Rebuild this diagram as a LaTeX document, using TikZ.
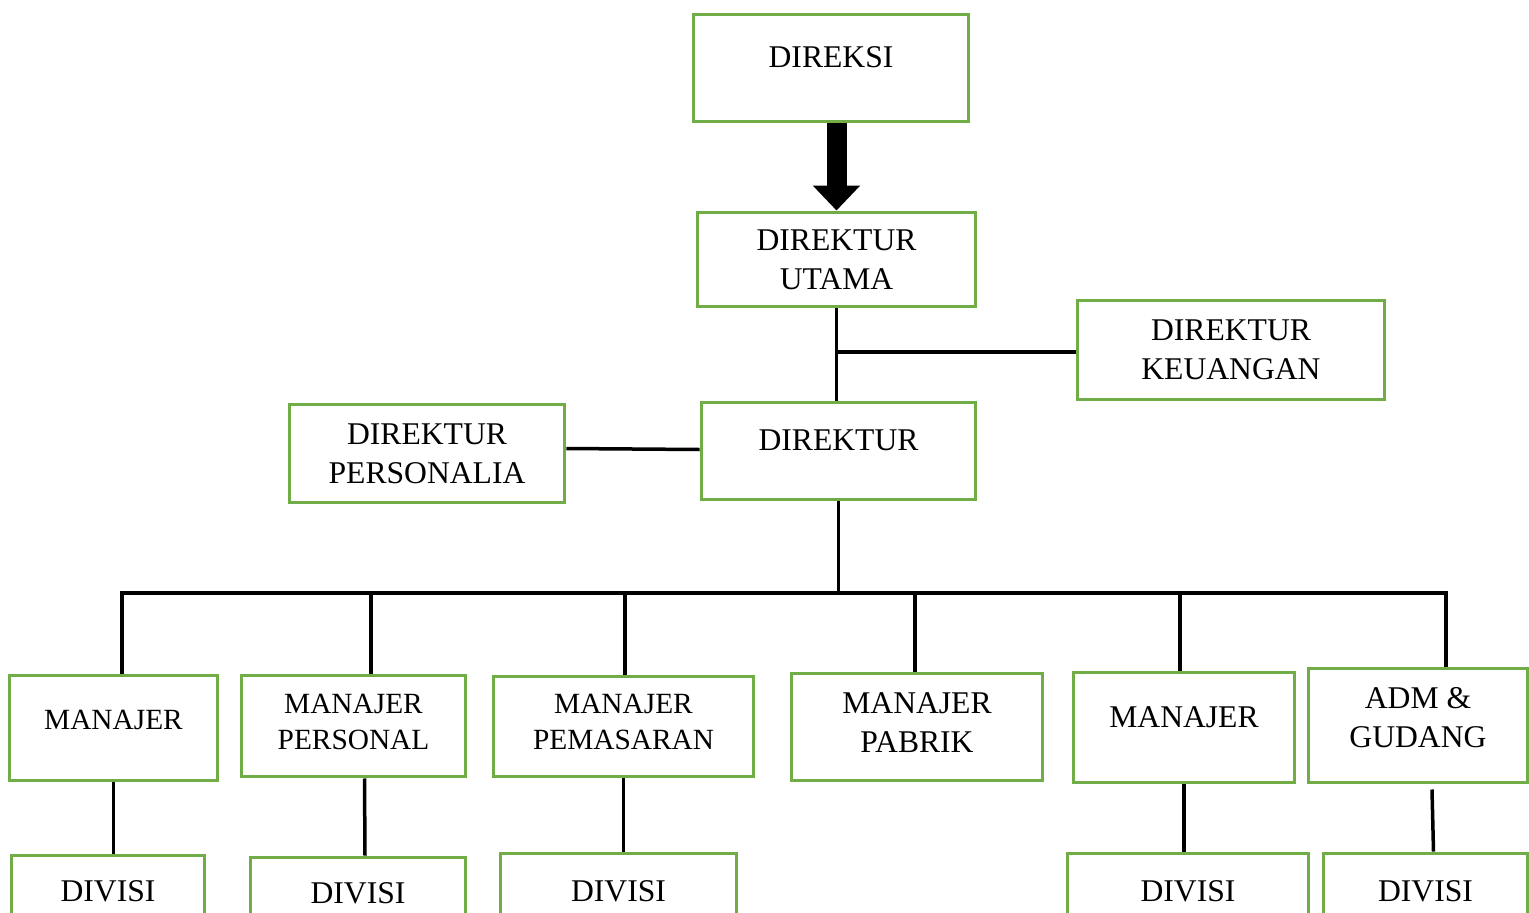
\documentclass[tikz,border=0pt]{standalone}
\usepackage{fontspec}
\setmainfont{Liberation Serif}
\usetikzlibrary{arrows.meta,calc}
\definecolor{boxgreen}{HTML}{70AD47}

\tikzset{
  box/.style={draw=boxgreen, line width=0.06cm, inner sep=0pt, align=center, font=\fontsize{18pt}{22.2pt}\selectfont},
  smalltext/.style={font=\fontsize{16.7pt}{20.6pt}\selectfont},
  link/.style={line width=0.07cm},
  bigarrow/.style={line width=0.4cm, -{Triangle[width=0.92cm, length=0.5cm]}}
}

\begin{document}
\begin{tikzpicture}[x=0.02cm, y=-0.02cm]
  \clip (0,0) rectangle (1529,913);
  % top levels
  \node[box, minimum width=5.52cm, minimum height=2.16cm, text depth=0.44cm] (direksi) at (831,68) {DIREKSI};
  \node[box, minimum width=5.58cm, minimum height=1.90cm] (utama) at (836.5,259.5) {DIREKTUR\\UTAMA};
  \node[box, minimum width=6.16cm, minimum height=2.00cm] (keuangan) at (1231,350) {DIREKTUR\\KEUANGAN};
  \node[box, minimum width=5.52cm, minimum height=1.98cm] (personalia) at (427,453.5) {DIREKTUR\\PERSONALIA};
  \node[box, minimum width=5.50cm, minimum height=1.96cm, text depth=0.44cm] (direktur) at (838.5,451) {DIREKTUR};
  % managers
  \node[box, smalltext, minimum width=4.18cm, minimum height=2.12cm, text depth=0.32cm] (m1) at (113.5,728) {MANAJER};
  \node[box, smalltext, minimum width=4.50cm, minimum height=2.04cm, text depth=0.18cm] (m2) at (353.5,726) {MANAJER\\PERSONAL};
  \node[box, smalltext, minimum width=5.22cm, minimum height=2.02cm, text depth=0.18cm] (m3) at (623.5,726.5) {MANAJER\\PEMASARAN};
  \node[box, minimum width=5.04cm, minimum height=2.16cm, text depth=0.18cm] (m4) at (917,727) {MANAJER\\PABRIK};
  \node[box, minimum width=4.44cm, minimum height=2.22cm, text depth=0.42cm] (m5) at (1184,727.5) {MANAJER};
  \node[box, minimum width=4.40cm, minimum height=2.30cm, text depth=0.34cm] (m6) at (1418,725.5) {ADM \&\\GUDANG};
  % divisions
  \node[box, minimum width=3.88cm, minimum height=2.00cm, text depth=0.56cm] (d1) at (108,905) {DIVISI};
  \node[box, minimum width=4.32cm, minimum height=2.00cm, text depth=0.56cm] (d2) at (358,907) {DIVISI};
  \node[box, minimum width=4.74cm, minimum height=2.00cm, text depth=0.48cm] (d3) at (618.5,903) {DIVISI};
  \node[box, minimum width=4.84cm, minimum height=2.00cm, text depth=0.48cm] (d5) at (1188,903) {DIVISI};
  \node[box, minimum width=4.10cm, minimum height=2.00cm, text depth=0.48cm] (d6) at (1425.5,903) {DIVISI};

  \draw[bigarrow] (direksi.south -| utama.north) -- (utama.north);
  \draw[link] (utama.south) -- (utama.south |- direktur.north);
  \draw[link] ($(keuangan.west)+(0,2)$) -- ($(keuangan.west -| utama.south)+(0,2)$);
  \draw[link] ($(personalia.east)+(0,-5)$) -- ($(personalia.east -| direktur.west)+(0,-4)$);

  % bus to the managers
  \coordinate (b1) at (122,593);
  \coordinate (b2) at (371,593);
  \coordinate (b3) at (625,593);
  \coordinate (b4) at (915,593);
  \coordinate (b5) at (1180,593);
  \coordinate (b6) at (1446,593);
  \draw[link] (direktur.south) -- (direktur.south |- b1);
  \draw[link, line cap=rect] (b1) -- (b6);
  \draw[link] (b1) -- (b1 |- m1.north);
  \draw[link] (b2) -- (b2 |- m2.north);
  \draw[link] (b3) -- (b3 |- m3.north);
  \draw[link] (b4) -- (b4 |- m4.north);
  \draw[link] (b5) -- (b5 |- m5.north);
  \draw[link] (b6) -- (b6 |- m6.north);

  \draw[link] (m1.south) -- (d1.north -| m1.south);
  \draw[link] ($(m2.south)+(11,0)$) -- ($(d2.north)+(7,0)$);
  \draw[link] (m3.south) -- (d3.north -| m3.south);
  \draw[link] (m5.south) -- (d5.north -| m5.south);
  \draw[link] ($(m6.south)+(14,5)$) -- ($(d6.north)+(8,0)$);
\end{tikzpicture}
\end{document}
